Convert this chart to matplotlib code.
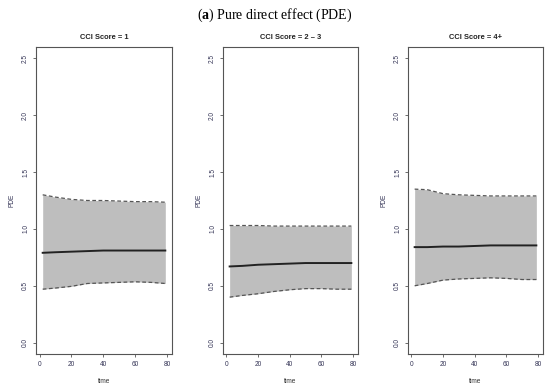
import numpy as np
import matplotlib
matplotlib.use('Agg')
import matplotlib.pyplot as plt

plt.rcParams['font.family'] = ['Liberation Sans', 'DejaVu Sans']
plt.rcParams['mathtext.fontset'] = 'custom'
plt.rcParams['mathtext.rm'] = 'Liberation Serif'
plt.rcParams['mathtext.bf'] = 'Liberation Serif:bold'

titles = ['CCI Score = 1', 'CCI Score = 2 \u2013 3', 'CCI Score = 4+']
time = [2, 10, 20, 30, 40, 50, 60, 70, 79]

# estimate, lower and upper bound per panel
est1 = [0.79, 0.795, 0.80, 0.805, 0.81, 0.81, 0.81, 0.81, 0.81]
low1 = [0.47, 0.48, 0.495, 0.52, 0.525, 0.53, 0.535, 0.53, 0.52]
up1 = [1.30, 1.28, 1.26, 1.25, 1.25, 1.245, 1.24, 1.24, 1.235]

est2 = [0.67, 0.675, 0.685, 0.69, 0.695, 0.70, 0.70, 0.70, 0.70]
low2 = [0.40, 0.415, 0.43, 0.45, 0.465, 0.475, 0.475, 0.47, 0.47]
up2 = [1.03, 1.03, 1.03, 1.025, 1.025, 1.025, 1.025, 1.025, 1.025]

est3 = [0.84, 0.84, 0.845, 0.845, 0.85, 0.855, 0.855, 0.855, 0.855]
low3 = [0.50, 0.52, 0.55, 0.56, 0.565, 0.57, 0.565, 0.555, 0.555]
up3 = [1.35, 1.345, 1.31, 1.30, 1.295, 1.29, 1.29, 1.29, 1.29]

ests = [est1, est2, est3]
lows = [low1, low2, low3]
ups = [up1, up2, up3]

fig = plt.figure(figsize=(5.5, 3.87), dpi=100)
lefts = [36, 223, 408]
widths = [136, 135, 135]
for i in range(3):
    ax = fig.add_axes([lefts[i] / 550, 33 / 387, widths[i] / 550, 307 / 387])
    ax.fill_between(time, lows[i], ups[i], color='#bebebe', lw=0)
    ax.plot(time, ups[i], color='#555555', ls=(0, (3, 2)), lw=0.9)
    ax.plot(time, lows[i], color='#555555', ls=(0, (3, 2)), lw=0.9)
    ax.plot(time, ests[i], color='#222222', lw=1.4)
    ax.set_xlim(-2.2, 83.2)
    ax.set_ylim(-0.1, 2.6)
    ax.set_xticks([0, 20, 40, 60, 80])
    ax.set_yticks([0.0, 0.5, 1.0, 1.5, 2.0, 2.5])
    ax.set_yticklabels(['0.0', '0.5', '1.0', '1.5', '2.0', '2.5'], rotation=90, va='center')
    ax.tick_params(labelsize=4.7, colors='#555555', labelcolor='#333355', length=2.5, width=0.6, pad=2.5)
    for s in ax.spines.values():
        s.set_color('#555555')
        s.set_linewidth(0.8)
    ax.set_xlabel('time', fontsize=4.7, color='#333333', labelpad=7)
    ax.set_ylabel('PDE', fontsize=4.7, color='#333355', labelpad=4.5)
    ax.set_title(titles[i], fontsize=5.4, fontweight='bold', color='#222222', pad=6)

fig.text(0.5, 0.96, r'($\mathbf{a}$) Pure direct effect (PDE)', ha='center', va='center',
         fontsize=10, family='Liberation Serif')
fig.savefig('out.png', dpi=100)
